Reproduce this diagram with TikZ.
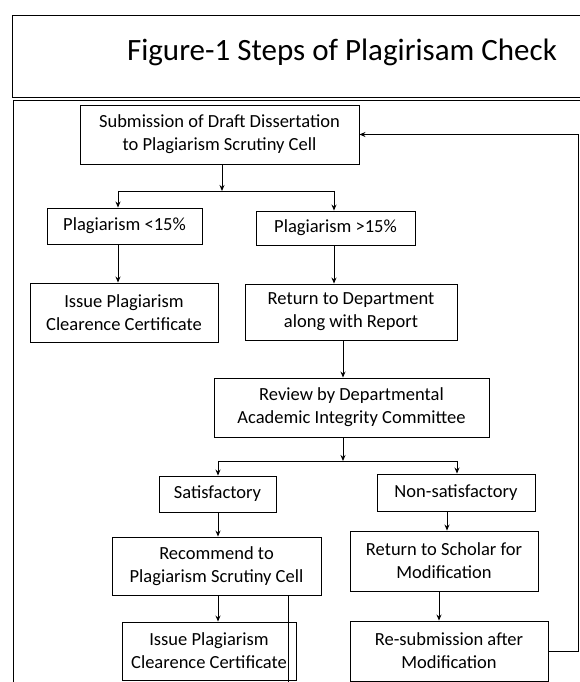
\documentclass[tikz,border=0pt]{standalone}
\usepackage{fontspec}
\setmainfont{Carlito}
\usetikzlibrary{arrows.meta}

\begin{document}
\begin{tikzpicture}[x=1pt, y=1pt, line width=0.9pt,
        stage/.style={draw, line width=0.9pt, align=center, inner sep=0pt,
            font=\fontsize{18.5}{23}\selectfont},
        flow/.style={-{Stealth[length=6pt,width=5pt]}, line width=0.9pt}]
        \useasboundingbox (0,0) rectangle (580,682);
        \clip (0,0) rectangle (580,682);

        % frames
        \draw (12,585) rectangle (600,667);
        \draw (13,-10) -- (13,582) -- (600,582);
        \node (title) at (342,630) {\fontsize{31}{35}\selectfont Figure-1 Steps of Plagirisam Check};

        \node[stage, minimum width=279, minimum height=59] (sub) at (219.5,547.5)
            {Submission of Draft Dissertation\\to Plagiarism Scrutiny Cell};
        \node[stage, minimum width=155, minimum height=36] (lt15) at (124.5,456) {Plagiarism <15\%};
        \node[stage, minimum width=159, minimum height=34] (gt15) at (335.5,454) {Plagiarism >15\%};
        \node[stage, minimum width=188, minimum height=59] (iss1) at (124,369.5)
            {Issue Plagiarism\\Clearence Certificate};
        \node[stage, minimum width=212, minimum height=56] (ret) at (351,370)
            {Return to Department\\along with Report};
        \node[stage, minimum width=275, minimum height=59] (rev) at (351.5,274.5)
            {Review by Departmental\\Academic Integrity Committee};
        \node[stage, minimum width=117, minimum height=36] (sat) at (217.5,188) {Satisfactory};
        \node[stage, minimum width=158, minimum height=37] (nsat) at (456,189.5) {Non-satisfactory};
        \node[stage, minimum width=209, minimum height=58] (rec) at (216.5,116)
            {Recommend to\\Plagiarism Scrutiny Cell};
        \node[stage, minimum width=188, minimum height=60] (ret2) at (444,121)
            {Return to Scholar for\\Modification};
        \node[stage, minimum width=174, minimum height=58] (iss2) at (209,31)
            {Issue Plagiarism\\Clearence Certificate};
        \node[stage, minimum width=198, minimum height=60] (resub) at (449,31)
            {Re-submission after\\Modification};

        % forks and the way back
        \coordinate (fork1) at (222,491);
        \coordinate (fork1l) at (118,491);
        \coordinate (fork1r) at (334,491);
        \coordinate (fork2) at (343,221);
        \coordinate (fork2l) at (218,221);
        \coordinate (fork2r) at (457,221);
        \coordinate (back) at (578,0);

        \draw[flow] (sub.south -| fork1) -- (fork1);
        \draw (fork1l) -- (fork1r);
        \draw[flow] (fork1l) -- (fork1l |- lt15.north);
        \draw[flow] (fork1r) -- (fork1r |- gt15.north);
        \draw[flow] (lt15.south -| fork1l) -- (iss1.north -| fork1l);
        \draw[flow] (gt15.south -| fork1r) -- (ret.north -| fork1r);
        \draw[flow] (ret.south -| fork2) -- (rev.north -| fork2);
        \draw[flow] (rev.south -| fork2) -- (fork2);
        \draw (fork2l) -- (fork2r);
        \draw[flow] (fork2l) -- (fork2l |- sat.north);
        \draw[flow] (fork2r) -- (fork2r |- nsat.north);
        \draw[flow] (sat.south -| fork2l) -- (rec.north -| fork2l);
        \draw[flow] (rec.south -| fork2l) -- (iss2.north -| fork2l);
        \draw[flow] ([xshift=-9]nsat.south) -- ([xshift=-9]nsat.south |- ret2.north);
        \draw[flow] ([xshift=-5]ret2.south) -- ([xshift=-5]ret2.south |- resub.north);
        \draw[flow] (resub.east) -- (resub.east -| back) |- (sub.east);
        \draw[thin] (rec.south -| 288,0) -- (288,0);
    \end{tikzpicture}
\end{document}
